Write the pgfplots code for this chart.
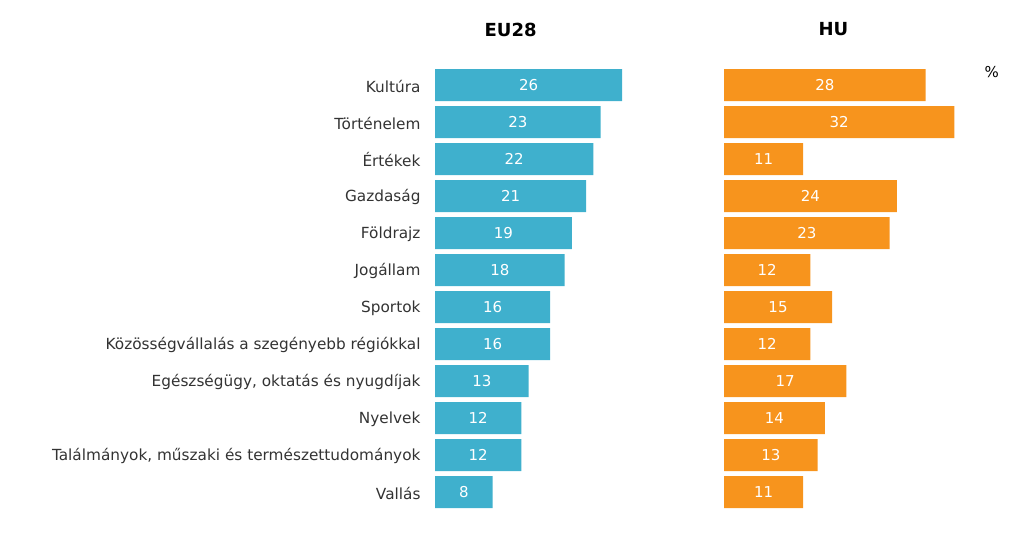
\documentclass[border=0pt]{standalone}
\usepackage{pgfplots}
\pgfplotsset{compat=1.18}
\usepackage{pgfplotstable}
\usepackage{fontspec}
\setmainfont{DejaVu Sans}
\definecolor{eublue}{HTML}{3FB0CD}
\definecolor{huorange}{HTML}{F7941D}
\definecolor{txt}{HTML}{333333}

\pgfplotstableread[col sep=comma]{
y,v
0,26
1,23
2,22
3,21
4,19
5,18
6,16
7,16
8,13
9,12
10,12
11,8
}\eudata
\pgfplotstableread[col sep=comma]{
y,v
0,28
1,32
2,11
3,24
4,23
5,12
6,15
7,12
8,17
9,14
10,13
11,11
}\hudata

\pgfplotsset{
  panel/.style={
    scale only axis,
    height=444pt,
    ymin=-0.5, ymax=11.5,
    y dir=reverse,
    xmin=0,
    axis lines=left,
    axis line style={draw=none},
    tick style={draw=none},
    major tick length=0pt,
    clip=false,
    xtick=\empty,
    /pgf/number format/assume math mode=true,
  },
}

\begin{document}
\begin{tikzpicture}
\path (0pt,0pt) rectangle (1024pt,550pt);

\begin{axis}[panel,
  at={(435pt,39.5pt)}, anchor=south west,
  width=216pt, xmax=30,
  ytick={0,...,11},
  yticklabels={Kultúra,Történelem,Értékek,Gazdaság,Földrajz,Jogállam,Sportok,Közösségvállalás a szegényebb régiókkal,{Egészségügy, oktatás és nyugdíjak},Nyelvek,{Találmányok, műszaki és természettudományok},Vallás},
  yticklabel style={font=\fontsize{15.3}{17}\selectfont, text=txt, anchor=east, xshift=-11pt, yshift=-1pt},
]
\addplot[xbar, bar width=32pt, fill=eublue, draw=none] table[x=v, y=y] {\eudata};
\addplot[only marks, mark=none, nodes near coords, point meta=explicit,
  every node near coord/.append style={anchor=center, text=white, font=\fontsize{15}{17}\selectfont}]
  table[x expr=\thisrow{v}/2, y=y, meta=v] {\eudata};
\node[font=\fontsize{18}{21}\selectfont\bfseries, text=black] at (axis cs:10.5,-1.5) {EU28};
\end{axis}

\begin{axis}[panel,
  at={(724pt,39.5pt)}, anchor=south west,
  width=252pt, xmax=35, ytick=\empty,
]
\addplot[xbar, bar width=32pt, fill=huorange, draw=none] table[x=v, y=y] {\hudata};
\addplot[only marks, mark=none, nodes near coords, point meta=explicit,
  every node near coord/.append style={anchor=center, text=white, font=\fontsize{15}{17}\selectfont}]
  table[x expr=\thisrow{v}/2, y=y, meta=v] {\hudata};
\node[font=\fontsize{18}{21}\selectfont\bfseries, text=black] at (axis cs:15.2,-1.5) {HU};
\node[font=\fontsize{15}{18}\selectfont, text=black] at (axis cs:37.2,-0.35) {\%};
\end{axis}
\end{tikzpicture}
\end{document}
